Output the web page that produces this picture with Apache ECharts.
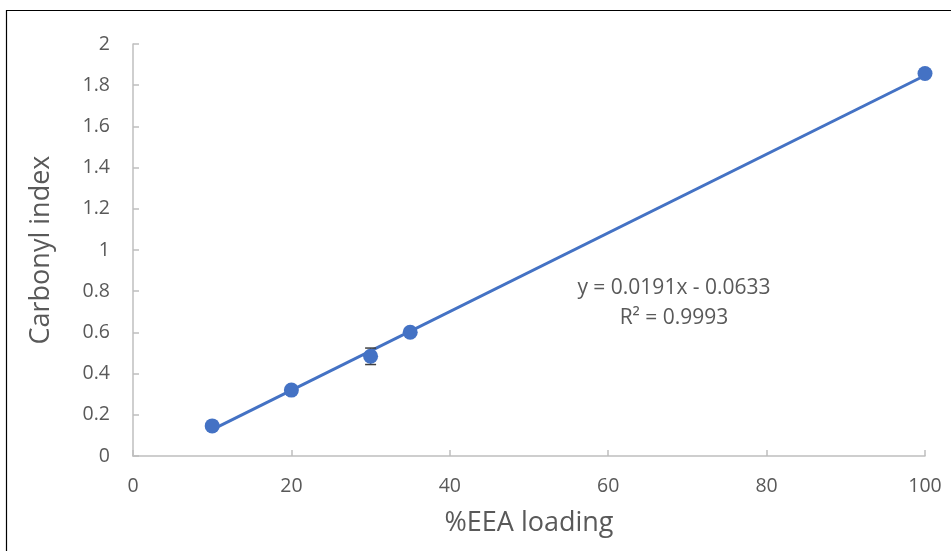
<!DOCTYPE html>
<html>
<head>
<meta charset="utf-8">
<script src="https://cdn.jsdelivr.net/npm/echarts@6/dist/echarts.min.js"></script>
<style>html,body{margin:0;padding:0;background:#fff;}#c{width:951px;height:551px;}</style>
</head>
<body>
<div id="c"></div>
<script>
var loading = [10, 20, 30, 35, 100];
var carbonyl = [0.146, 0.320, 0.484, 0.601, 1.857];
var errors = [0.01, 0.012, 0.04, 0.01, 0.01];
var trendX = [10, 100];
var trendY = [0.128, 1.847];
var xTicks = [0, 20, 40, 60, 80, 100];
var yTicks = [0, 0.2, 0.4, 0.6, 0.8, 1, 1.2, 1.4, 1.6, 1.8, 2];
var equationText = ['y = 0.0191x - 0.0633', 'R\u00b2 = 0.9993'];

var pts = loading.map(function (x, i) { return [x, carbonyl[i]]; });
var errData = loading.map(function (x, i) { return [x, carbonyl[i] - errors[i], carbonyl[i] + errors[i]]; });
var trend = trendX.map(function (x, i) { return [x, trendY[i]]; });

var font = '"Open Sans", "Noto Sans", sans-serif';
var chart = echarts.init(document.getElementById('c'));
chart.setOption({
  animation: false,
  grid: { left: 133, right: 26, top: 44, bottom: 95 },
  xAxis: {
    type: 'value', min: 0, max: 100, interval: 20,
    name: '%EEA loading', nameLocation: 'middle', nameGap: 54,
    nameTextStyle: { fontFamily: font, fontSize: 27, color: '#595959' },
    axisLine: { show: true, lineStyle: { color: '#bfbfbf', width: 1.5 } },
    axisTick: { show: true, inside: true, length: 6, lineStyle: { color: '#bfbfbf', width: 1.5 } },
    axisLabel: { fontFamily: font, fontSize: 19.5, color: '#595959', margin: 20,
      formatter: function (v) { return xTicks.indexOf(v) >= 0 ? String(v) : ''; } },
    splitLine: { show: false }
  },
  yAxis: {
    type: 'value', min: 0, max: 2, interval: 0.2,
    name: 'Carbonyl index', nameLocation: 'middle', nameGap: 78,
    nameTextStyle: { fontFamily: font, fontSize: 27, color: '#595959' },
    axisLine: { show: true, lineStyle: { color: '#bfbfbf', width: 1.5 } },
    axisTick: { show: true, inside: true, length: 6, lineStyle: { color: '#bfbfbf', width: 1.5 } },
    axisLabel: { fontFamily: font, fontSize: 19.5, color: '#595959', margin: 23,
      formatter: function (v) {
        for (var i = 0; i < yTicks.length; i++) if (Math.abs(yTicks[i] - v) < 1e-9) return String(yTicks[i]);
        return '';
      } },
    splitLine: { show: false }
  },
  graphic: [
    { type: 'rect', left: 4, top: 8, shape: { width: 980, height: 600 }, style: { fill: 'none', stroke: '#000', lineWidth: 1.2 }, silent: true, z: 100 },
    { type: 'text', x: 674, y: 288, style: { text: equationText[0], font: '21px ' + font, fill: '#595959', textAlign: 'center', textVerticalAlign: 'middle' } },
    { type: 'text', x: 674, y: 318, style: { text: equationText[1], font: '21px ' + font, fill: '#595959', textAlign: 'center', textVerticalAlign: 'middle' } }
  ],
  series: [
    {
      type: 'line', data: trend, symbol: 'none', z: 2,
      lineStyle: { color: '#4472c4', width: 3 }
    },
    {
      type: 'custom', z: 3,
      renderItem: function (params, api) {
        var x = api.value(0);
        var lo = api.coord([x, api.value(1)]);
        var hi = api.coord([x, api.value(2)]);
        var hw = 5.5;
        var st = { stroke: '#404040', lineWidth: 1.5 };
        return { type: 'group', children: [
          { type: 'line', shape: { x1: lo[0], y1: lo[1], x2: hi[0], y2: hi[1] }, style: st },
          { type: 'line', shape: { x1: lo[0] - hw, y1: lo[1], x2: lo[0] + hw, y2: lo[1] }, style: st },
          { type: 'line', shape: { x1: hi[0] - hw, y1: hi[1], x2: hi[0] + hw, y2: hi[1] }, style: st }
        ] };
      },
      data: errData
    },
    {
      type: 'scatter', data: pts, symbol: 'circle', symbolSize: 15, z: 4,
      itemStyle: { color: '#4472c4', opacity: 1 }
    }
  ]
});
</script>
</body>
</html>
